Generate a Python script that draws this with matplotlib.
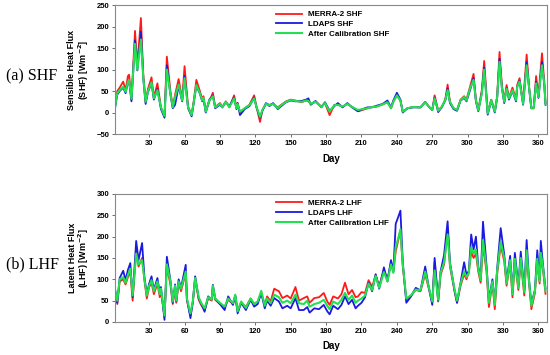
import matplotlib
matplotlib.use('Agg')
import matplotlib.pyplot as plt

plt.rcParams['font.family'] = ['Liberation Sans', 'DejaVu Sans']

# SHF 面板
shf_days = [1, 3, 5, 8, 10, 12, 13, 15, 18, 20,
            23, 25, 27, 29, 32, 34, 37, 40, 43, 45,
            48, 50, 52, 55, 58, 60, 63, 66, 68, 70,
            73, 75, 76, 78, 81, 84, 86, 90, 92, 95,
            98, 102, 104, 105, 107, 111, 115, 119, 121, 124,
            126, 129, 132, 135, 139, 142, 146, 150, 154, 159,
            163, 165, 167, 171, 176, 179, 183, 187, 190, 194,
            198, 202, 207, 211, 215, 219, 223, 228, 232, 235,
            237, 240, 243, 245, 249, 254, 260, 264, 267, 270,
            272, 275, 278, 281, 283, 285, 288, 291, 294, 297,
            299, 302, 305, 307, 309, 312, 314, 317, 320, 323,
            325, 327, 329, 331, 333, 335, 338, 341, 342, 344,
            347, 350, 352, 354, 356, 358, 360, 363, 365, 366]
shf_merra = [14, 50, 58, 72, 52, 85, 88, 30, 190, 110,
             220, 90, 25, 55, 82, 35, 68, 12, -8, 130,
             50, 14, 42, 78, 30, 108, 14, -6, 30, 76,
             50, 30, 38, 3, 26, 46, 13, 22, 13, 26,
             12, 40, 12, 22, 0, 10, 18, 40, 13, -22,
             5, 20, 18, 20, 12, 18, 26, 30, 28, 24,
             28, 26, 20, 25, 14, 22, -6, 18, 18, 14,
             20, 13, 3, 6, 10, 13, 14, 19, 24, 10,
             25, 40, 28, 2, 10, 13, 12, 25, 14, 6,
             40, 5, 13, 30, 65, 25, 10, 6, 30, 38,
             30, 60, 90, 30, 6, 52, 120, 0, 30, 4,
             38, 141, 64, 26, 64, 35, 58, 30, 64, 80,
             22, 135, 62, 10, 10, 85, 38, 138, 70, 22]
shf_ldaps = [10, 42, 50, 58, 45, 70, 73, 26, 168, 98,
             188, 80, 20, 48, 68, 30, 55, 8, -12, 110,
             42, 10, 18, 62, 26, 85, 10, -9, 26, 62,
             44, 26, 32, 0, 30, 40, 10, 18, 12, 24,
             15, 35, 8, 22, -6, 8, 15, 35, 12, -12,
             4, 22, 15, 22, 8, 15, 24, 28, 26, 27,
             30, 33, 18, 27, 12, 24, 4, 15, 22, 12,
             22, 12, 3, 8, 12, 12, 16, 20, 28, 12,
             28, 46, 30, 0, 10, 12, 12, 24, 14, 6,
             35, 1, 12, 28, 56, 22, 8, 4, 28, 34,
             26, 52, 80, 26, 3, 46, 105, -5, 28, 0,
             34, 125, 58, 22, 58, 30, 50, 26, 60, 74,
             18, 118, 58, 10, 12, 72, 34, 118, 62, 18]
shf_cal = [12, 45, 52, 60, 48, 72, 75, 32, 160, 100,
           170, 82, 25, 50, 70, 33, 52, 12, -8, 100,
           45, 12, 36, 65, 28, 80, 12, -6, 28, 64,
           45, 28, 35, 2, 28, 38, 12, 20, 12, 25,
           13, 33, 10, 20, 2, 10, 17, 33, 13, -10,
           6, 20, 17, 20, 10, 17, 25, 29, 27, 25,
           28, 27, 20, 25, 13, 22, 2, 17, 18, 14,
           20, 13, 6, 8, 10, 13, 14, 19, 24, 10,
           25, 40, 28, 2, 10, 13, 12, 24, 14, 6,
           33, 4, 13, 29, 52, 25, 10, 6, 29, 36,
           28, 56, 76, 29, 5, 44, 100, -2, 29, 2,
           36, 118, 58, 25, 56, 33, 52, 29, 60, 72,
           20, 110, 60, 10, 10, 68, 36, 110, 66, 20]

# LHF 面板
lhf_days = [1, 3, 5, 8, 10, 12, 14, 16, 19, 21,
            24, 26, 28, 30, 32, 34, 37, 39, 40, 43,
            45, 48, 50, 52, 53, 55, 57, 61, 62, 65,
            67, 69, 72, 74, 77, 80, 83, 84, 86, 90,
            94, 97, 101, 103, 105, 108, 112, 116, 119, 122,
            125, 128, 130, 133, 136, 140, 143, 147, 150, 154,
            157, 161, 164, 166, 170, 174, 178, 181, 183, 186,
            190, 193, 196, 199, 202, 205, 207, 210, 213, 216,
            219, 222, 225, 229, 232, 235, 237, 239, 241, 243,
            245, 248, 252, 256, 260, 264, 267, 270, 272, 275,
            277, 280, 283, 285, 289, 291, 294, 297, 299, 301,
            303, 305, 307, 309, 311, 313, 316, 318, 321, 323,
            325, 328, 331, 333, 336, 338, 340, 343, 345, 348,
            350, 352, 354, 357, 359, 361, 362, 364, 366]
lhf_merra = [70, 42, 95, 100, 88, 105, 118, 50, 168, 130,
             150, 98, 55, 82, 92, 65, 90, 58, 72, 12,
             130, 88, 42, 80, 45, 92, 72, 115, 50, 15,
             45, 100, 52, 40, 28, 55, 50, 80, 52, 42,
             35, 52, 42, 60, 28, 45, 35, 55, 42, 48,
             68, 40, 60, 48, 78, 72, 56, 62, 55, 82,
             50, 56, 60, 45, 56, 58, 68, 48, 40, 60,
             55, 65, 92, 65, 75, 58, 60, 70, 68, 98,
             82, 110, 85, 122, 100, 138, 118, 165, 190, 215,
             130, 52, 62, 75, 72, 112, 78, 45, 140, 48,
             110, 135, 215, 130, 70, 45, 85, 112, 100, 117,
             165, 150, 160, 118, 92, 180, 118, 35, 90, 30,
             112, 180, 142, 85, 138, 58, 140, 75, 142, 62,
             160, 92, 30, 68, 140, 90, 152, 118, 66]
lhf_ldaps = [78, 45, 103, 120, 98, 122, 138, 58, 190, 145,
             185, 105, 65, 90, 107, 75, 103, 68, 82, 5,
             153, 98, 45, 88, 48, 100, 80, 134, 55, 9,
             48, 107, 55, 44, 24, 60, 52, 87, 55, 42,
             28, 60, 40, 62, 20, 45, 28, 52, 36, 42,
             68, 32, 50, 38, 56, 48, 32, 38, 32, 56,
             28, 28, 35, 22, 32, 30, 40, 25, 18, 38,
             30, 40, 60, 42, 52, 32, 38, 45, 58, 92,
             72, 112, 78, 128, 95, 145, 118, 230, 245, 261,
             140, 45, 60, 80, 74, 130, 82, 40, 150, 50,
             118, 157, 236, 140, 72, 45, 92, 140, 110, 120,
             205, 170, 200, 130, 100, 235, 132, 52, 100, 45,
             125, 220, 158, 95, 155, 70, 162, 85, 165, 75,
             192, 100, 42, 75, 168, 100, 190, 130, 78]
lhf_cal = [75, 50, 100, 105, 92, 110, 125, 62, 160, 135,
           145, 100, 62, 85, 98, 72, 95, 65, 78, 15,
           135, 95, 48, 85, 50, 95, 78, 118, 55, 20,
           48, 103, 58, 45, 32, 58, 52, 85, 55, 45,
           36, 55, 44, 64, 25, 48, 33, 55, 42, 48,
           73, 38, 55, 44, 64, 58, 45, 50, 44, 64,
           44, 42, 50, 36, 42, 45, 52, 38, 30, 48,
           42, 52, 68, 52, 62, 45, 50, 55, 62, 90,
           75, 108, 80, 117, 95, 135, 115, 176, 195, 217,
           135, 55, 63, 76, 74, 118, 82, 48, 121, 52,
           115, 140, 205, 135, 75, 50, 90, 118, 105, 115,
           175, 160, 170, 125, 98, 192, 125, 45, 95, 40,
           120, 188, 150, 90, 145, 65, 148, 80, 150, 70,
           168, 96, 38, 72, 148, 95, 162, 125, 72]

x_ticks = [30, 60, 90, 120, 150, 180, 210, 240, 270, 300, 330, 360]


def panel(ax, days, merra, ldaps, cal, name, ylabel, ylim, yticks, tag):
    ax.plot(days, merra, color='#ff1a1a', lw=1.3, label='MERRA-2 ' + name)
    ax.plot(days, ldaps, color='#1a1ae0', lw=1.3, label='LDAPS ' + name)
    ax.plot(days, cal, color='#22e050', lw=1.5, label='After Calibration ' + name)
    ax.set_xlim(1, 367)
    ax.set_ylim(*ylim)
    ax.set_xticks(x_ticks)
    ax.set_yticks(yticks)
    ax.tick_params(labelsize=5.5, length=2, width=0.6, pad=2, color='#555555')
    for lab in ax.get_xticklabels() + ax.get_yticklabels():
        lab.set_fontweight('bold')
    for sp in ax.spines.values():
        sp.set_color('#888888')
        sp.set_linewidth(0.8)
    ax.set_xlabel('Day', fontsize=7, fontweight='bold', labelpad=5)
    ax.set_ylabel(ylabel, fontsize=6.5, fontweight='bold', labelpad=4, linespacing=1.0)
    leg = ax.legend(loc='upper left', bbox_to_anchor=(0.36, 1.0), frameon=False,
                    fontsize=5.8, handlelength=3.2, labelspacing=0.25, borderaxespad=0.3)
    for t in leg.get_texts():
        t.set_fontweight('bold')
    ax.figure.text(0.01, ax.get_position().y0 + ax.get_position().height * 0.45, tag,
                   fontsize=11.5, family='Liberation Serif', va='center', ha='left')


fig = plt.figure(figsize=(5.5, 3.55), dpi=100)
ax1 = fig.add_axes([0.209, 0.6225, 0.785, 0.363])
ax2 = fig.add_axes([0.209, 0.093, 0.785, 0.3606])

panel(ax1, shf_days, shf_merra, shf_ldaps, shf_cal, 'SHF',
      'Sensible Heat Flux\n(SHF) [Wm$^{\\mathbf{-2}}$]', (-50, 250), range(-50, 251, 50), '(a) SHF')
panel(ax2, lhf_days, lhf_merra, lhf_ldaps, lhf_cal, 'LHF',
      'Latent Heat Flux\n(LHF) [Wm$^{\\mathbf{-2}}$]', (0, 300), range(0, 301, 50), '(b) LHF')

fig.savefig('out.png', dpi=100)
